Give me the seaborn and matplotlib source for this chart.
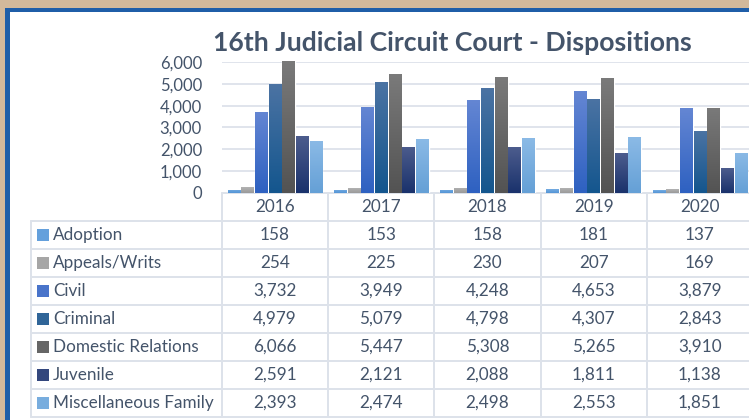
import numpy as np
import pandas as pd
import matplotlib.pyplot as plt
import matplotlib.colors as mcolors
from matplotlib.patches import Rectangle
import seaborn as sns

# --- data ---
years = ['2016', '2017', '2018', '2019', '2020']
categories = ['Adoption', 'Appeals/Writs', 'Civil', 'Criminal',
              'Domestic Relations', 'Juvenile', 'Miscellaneous Family']
adoption = [158, 153, 158, 181, 137]
appeals = [254, 225, 230, 207, 169]
civil = [3732, 3949, 4248, 4653, 3879]
criminal = [4979, 5079, 4798, 4307, 2843]
domestic = [6066, 5447, 5308, 5265, 3910]
juvenile = [2591, 2121, 2088, 1811, 1138]
misc_family = [2393, 2474, 2498, 2553, 1851]
y_ticks = [0, 1000, 2000, 3000, 4000, 5000, 6000]

series = [adoption, appeals, civil, criminal, domestic, juvenile, misc_family]
# (top, bottom) of each bar gradient
grad_colors = [('#74abe1', '#5495d6'), ('#b2b2b2', '#9a9a9a'),
               ('#6486d3', '#2e61c1'), ('#4b73a3', '#14568e'),
               ('#7a7a7a', '#535353'), ('#4c5c8d', '#1a326c'),
               ('#8bbae6', '#65a0d6')]
mid_colors = [mcolors.to_hex(np.mean([mcolors.to_rgb(a), mcolors.to_rgb(b)], axis=0))
              for a, b in grad_colors]

df = pd.DataFrame([(y, c, v[i]) for c, v in zip(categories, series)
                   for i, y in enumerate(years)],
                  columns=['Year', 'Category', 'Count'])

txt = '#44546a'
grid_c = '#dde2ea'
W, H = 749, 420
fs = 12.3

sns.set_theme(style='white')
plt.rcParams['font.family'] = ['Lato', 'DejaVu Sans']

fig = plt.figure(figsize=(W / 100, H / 100), dpi=100)
fig.patch.set_facecolor('#d3b99b')


def px(l, t, r, b):
    return [l / W, 1 - b / H, (r - l) / W, (b - t) / H]


# frame + table layer
bg = fig.add_axes([0, 0, 1, 1], zorder=0)
bg.set_xlim(0, W)
bg.set_ylim(H, 0)
bg.axis('off')
bg.add_patch(Rectangle((5, 8), W + 10, H, facecolor='#1f5ea8', edgecolor='none'))
bg.add_patch(Rectangle((10, 12), W + 10, H, facecolor='white', edgecolor='none'))

# bar chart
x0, x1, top, base = 222, 753, 62, 193
ax = fig.add_axes(px(x0, top, x1, base), zorder=2)
ax.patch.set_alpha(0)
sns.barplot(data=df, x='Year', y='Count', hue='Category', order=years,
            hue_order=categories, palette=mid_colors, width=0.9, gap=0.07,
            saturation=1, legend=False, ax=ax)
ax.set_yticks(y_ticks)
ax.set_yticklabels([f'{t:,}' for t in y_ticks], color=txt, fontsize=12)
ax.tick_params(axis='y', length=0, pad=14.4)
ax.set_xticks([])
ax.set_xlabel('')
ax.set_ylabel('')
for s in ax.spines.values():
    s.set_visible(False)
for t in y_ticks[1:]:
    ax.axhline(t, color=grid_c, lw=1.3, zorder=0)

# gradient fill per bar
grad = np.linspace(0, 1, 64).reshape(-1, 1)
for cont, (ctop, cbot) in zip(ax.containers, grad_colors):
    cmap = mcolors.LinearSegmentedColormap.from_list('g', [ctop, cbot])
    for p in cont.patches:
        bx, by = p.get_x(), p.get_y()
        bw, bh = p.get_width(), p.get_height()
        im = ax.imshow(grad, cmap=cmap, aspect='auto', zorder=3,
                       extent=[bx, bx + bw, by, by + bh], origin='upper')
        im.set_clip_path(p)
ax.set_xlim(-0.5, len(years) - 0.5)
ax.set_ylim(0, 6000)

fig.text(452 / W, 1 - 43 / H, '16th Judicial Circuit Court - Dispositions',
         ha='center', va='center', fontsize=19.2, fontweight='bold', color=txt)

# data table
col_w = (x1 - x0) / len(years)
row_h = 28
first = base + row_h
rows_y = [first + i * row_h for i in range(len(categories) + 1)]
lw = 1.4
bg.plot([x0, W + 5], [base, base], color=grid_c, lw=lw)
for y in rows_y:
    bg.plot([31, W + 5], [y, y], color=grid_c, lw=lw)
bg.plot([31, 31], [first, rows_y[-1]], color=grid_c, lw=lw)
for i in range(len(years) + 1):
    xx = x0 + i * col_w
    bg.plot([xx, xx], [base, rows_y[-1]], color=grid_c, lw=lw)

for i, yr in enumerate(years):
    bg.text(x0 + (i + 0.5) * col_w, base + row_h / 2, yr, ha='center',
            va='center', color=txt, fontsize=fs)
for r, (cat, vals, col) in enumerate(zip(categories, series, mid_colors)):
    cy = first + (r + 0.5) * row_h
    bg.add_patch(Rectangle((37, cy - 6), 12, 12, facecolor=col, edgecolor='none'))
    bg.text(53, cy, cat, ha='left', va='center', color=txt, fontsize=fs)
    for i, v in enumerate(vals):
        bg.text(x0 + (i + 0.5) * col_w, cy, f'{v:,}', ha='center',
                va='center', color=txt, fontsize=fs)

fig.savefig('out.png', dpi=100, facecolor=fig.get_facecolor())
